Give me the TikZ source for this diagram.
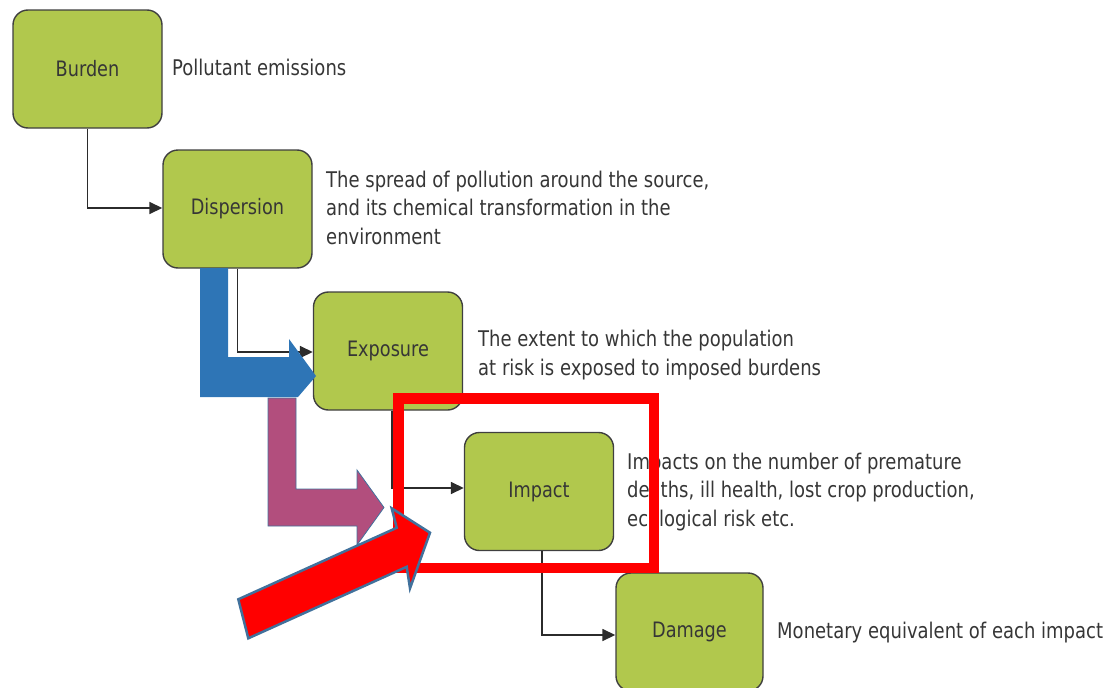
\documentclass[tikz,border=0pt]{standalone}
\usepackage{fontspec}
\setmainfont{DejaVu Sans}
\usetikzlibrary{arrows.meta}
\definecolor{boxgreen}{HTML}{B1C84D}
\definecolor{boxedge}{HTML}{3F3F3F}
\definecolor{connc}{HTML}{2B2B2B}
\definecolor{txt}{HTML}{363636}
\definecolor{pblue}{HTML}{2E75B6}
\definecolor{ppink}{HTML}{B24E7D}
\definecolor{pedge}{HTML}{41719C}
\definecolor{hired}{HTML}{FF0000}
\newcommand{\stretchtext}[1]{\scalebox{1}[1.2]{\begin{tabular}{@{}l@{}}#1\end{tabular}}}
\newcommand{\stlabel}[1]{\scalebox{1}[1.2]{#1}}
\begin{document}
\begin{tikzpicture}[x=1pt,y=-1pt,
  stage/.style={draw=boxedge, line width=1.4pt, fill=boxgreen, rounded corners=15pt,
    minimum width=149pt, minimum height=118pt, inner sep=0pt, text=txt,
    font=\fontsize{17.7}{22}\selectfont},
  desc/.style={anchor=west, inner sep=0pt, text=txt, font=\fontsize{18}{23.75}\selectfont},
  conn/.style={draw=connc, line width=1.6pt, -{Triangle[length=13pt,width=12pt]}},
  bigarrow/.style={draw=pedge, line join=miter},
]
\useasboundingbox (0,0) rectangle (1111,688);

% stages
\node[stage] (burden) at (87.5,69) {\stlabel{Burden}};
\node[stage] (disp) at (237.5,209) {\stlabel{Dispersion}};
\node[stage] (expo) at (388,351) {\stlabel{Exposure}};
\node[stage] (imp) at (539,491.5) {\stlabel{Impact}};
\node[stage, minimum width=147pt] (dam) at (689.5,632) {\stlabel{Damage}};

% descriptions
\node[desc] (d1) at (172,70) {\stretchtext{Pollutant emissions}};
\node[desc] (d2) at (326,210) {\stretchtext{The spread of pollution around the source,\\and its chemical transformation in the\\environment}};
\node[desc] (d3) at (478,355.5) {\stretchtext{The extent to which the population\\at risk is exposed to imposed burdens}};
\node[desc] (d4) at (627,492) {\stretchtext{Impacts on the number of premature\\deaths, ill health, lost crop production,\\ecological risk etc.}};
\node[desc] (d5) at (777,633) {\stretchtext{Monetary equivalent of each impact}};

% connectors
\draw[conn] (burden.south) |- ([yshift=1pt]disp.west);
\draw[conn] (disp.south) |- ([yshift=-1pt]expo.west);
\draw[conn] ([xshift=4pt]expo.south) |- ([yshift=3.5pt]imp.west);
\draw[conn] ([xshift=3pt]imp.south) |- ([yshift=-3pt]dam.west);

% blue bent arrow
\fill[pblue] (200,268) -- (228,268) -- (228,357) -- (289,357) -- (289,339)
  -- (316,376) -- (298,397) -- (200,397) -- cycle;

% pink bent arrow
\filldraw[bigarrow, fill=ppink, line width=0.8pt] (268,398) -- (296,398) -- (296,489)
  -- (357,489) -- (357,470) -- (384,507.5) -- (357,545) -- (357,526) -- (268,526) -- cycle;

% red highlight frame
\draw[hired, line width=10.5pt] (398.3,398.3) rectangle (653.8,568);

% red arrow
\filldraw[bigarrow, fill=hired, line width=2.5pt] (238.3,599.3) -- (396.7,527.8)
  -- (391.7,508.3) -- (430,532.7) -- (410,588.3) -- (406.7,566.8) -- (248.3,638.3) -- cycle;
\end{tikzpicture}
\end{document}
